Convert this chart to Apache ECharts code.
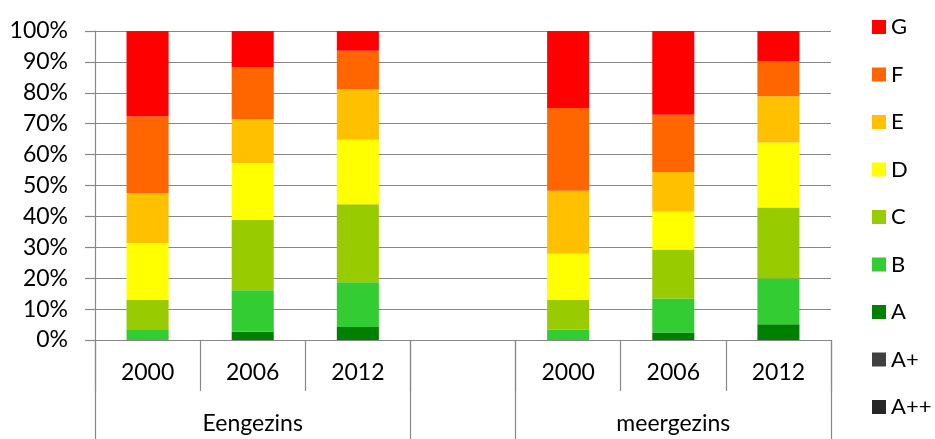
<!DOCTYPE html>
<html>
<head>
<meta charset="utf-8">
<script src="https://cdn.jsdelivr.net/npm/echarts@6/dist/echarts.min.js"></script>
<style>
    html, body { margin: 0; padding: 0; background: #fff; }
    #chartStack { width: 935px; height: 439px; }
</style>
</head>
<body>
<div id="chartStack"></div>
<script>
    // categorieen (jaar) en groepen (woningtype)
    var years = ['2000', '2006', '2012', '', '2000', '2006', '2012'];
    var groups = ['', 'Eengezins', '', '', '', 'meergezins', ''];
    var yTicks = [0, 10, 20, 30, 40, 50, 60, 70, 80, 90, 100];

    // aandeel per energielabel, in %
    var labelApp = [0, 0, 0, null, 0, 0, 0];
    var labelAp = [0, 0, 0, null, 0, 0, 0];
    var labelA = [0, 2.7, 4.2, null, 0, 2.4, 5.1];
    var labelB = [3.2, 13.4, 14.5, null, 3.4, 11.0, 14.8];
    var labelC = [9.8, 22.8, 25.2, null, 9.6, 15.9, 23.0];
    var labelD = [18.4, 18.4, 20.9, null, 14.9, 12.2, 21.0];
    var labelE = [16.2, 14.1, 16.3, null, 20.4, 12.9, 15.0];
    var labelF = [24.7, 16.8, 12.5, null, 26.8, 18.5, 11.2];
    var labelG = [27.7, 11.8, 6.4, null, 24.9, 27.1, 9.9];

    var seriesNames = ['A++', 'A+', 'A', 'B', 'C', 'D', 'E', 'F', 'G'];
    var seriesData = [labelApp, labelAp, labelA, labelB, labelC, labelD, labelE, labelF, labelG];
    var colors = ['#262626', '#404040', '#008000', '#33CC33', '#99CC00', '#FFFF00', '#FFC000', '#FF6600', '#FF0000'];

    var gray = '#888888';
    var font = 'Lato';

    var chartStack = echarts.init(document.getElementById('chartStack'));
    chartStack.setOption({
        animation: false,
        textStyle: { fontFamily: font },
        grid: { left: 95, right: 104, top: 31, bottom: 99, containLabel: false },
        legend: {
            orient: 'vertical',
            left: 867,
            top: 11,
            itemWidth: 14,
            itemHeight: 14,
            itemGap: 25.5,
            icon: 'rect',
            textStyle: { fontFamily: font, fontSize: 22, color: '#000', lineHeight: 22 },
            data: seriesNames.slice().reverse()
        },
        xAxis: [{
            type: 'category',
            data: years,
            position: 'bottom',
            axisLine: { show: true, lineStyle: { color: gray, width: 1.2 } },
            axisTick: { show: true, interval: 0, length: 51, lineStyle: { color: gray, width: 1.2 } },
            axisLabel: { interval: 0, margin: 21, fontSize: 23, color: '#000', fontFamily: font }
        }, {
            type: 'category',
            data: groups,
            position: 'bottom',
            axisLine: { show: false },
            axisTick: {
                show: true,
                length: 100,
                interval: function (i) { return i === 0 || i === 3 || i === 4; },
                lineStyle: { color: gray, width: 1.2 }
            },
            axisLabel: { interval: 0, margin: 72, fontSize: 23, color: '#000', fontFamily: font }
        }],
        yAxis: {
            type: 'value',
            min: yTicks[0],
            max: yTicks[yTicks.length - 1],
            interval: 10,
            axisLine: { show: true, lineStyle: { color: gray, width: 1.2 } },
            axisTick: { show: true, length: 10, lineStyle: { color: gray, width: 1.2 } },
            splitLine: { lineStyle: { color: gray, width: 1.2 } },
            axisLabel: { formatter: '{value}%', margin: 27, fontSize: 23, color: '#000', fontFamily: font }
        },
        series: seriesNames.map(function (name, i) {
            return {
                name: name,
                type: 'bar',
                stack: 'label',
                barWidth: '40%',
                data: seriesData[i],
                itemStyle: { color: colors[i] }
            };
        })
    });
</script>
</body>
</html>
